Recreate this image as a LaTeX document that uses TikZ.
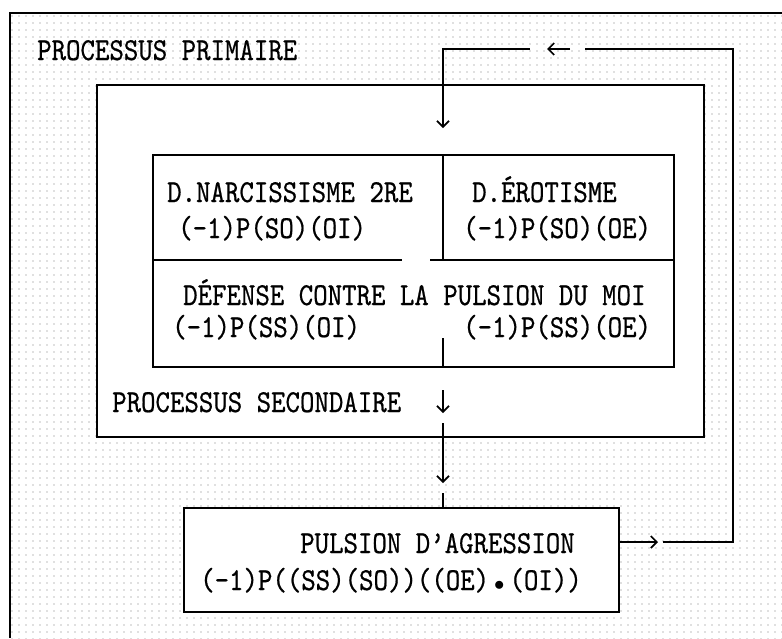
\documentclass[tikz,border=0pt]{standalone}
\usepackage{fontspec}
\usetikzlibrary{positioning,arrows.meta,calc,patterns.meta}
\newfontfamily\dfont{lmmono10-regular.otf}[FakeStretch=0.86,FakeBold=0.6]
\definecolor{cdot}{HTML}{7A7A7A}

\begin{document}
\begin{tikzpicture}[x=1pt, y=-1pt,
  box/.style={draw, fill=white, line width=1.7pt, rectangle, inner sep=0pt, anchor=north west},
  txt/.style={inner sep=0pt, anchor=base west, font=\dfont\fontsize{32}{36}\selectfont},
  wire/.style={line width=1.7pt},
  arr/.style={-{Straight Barb[length=6pt,width=12pt]}, line width=1.7pt}
]
\useasboundingbox (0,0) rectangle (782,638);

% --- dotted field and the open frame of the primary process ---
\fill[pattern={Dots[radius=0.75pt,distance=6.5pt]}, pattern color=cdot] (10,13) rectangle (782,638);
\draw[wire] (782,13) -- (10,13) -- (10,638);
\node[txt] (primlbl) at (37,60) {PROCESSUS PRIMAIRE};

% --- secondary process and the defence table ---
\node[box, minimum width=607pt, minimum height=352pt] (secbox) at (96,84) {};
\node[box, minimum width=521pt, minimum height=212pt] (grid) at (152,154) {};
\coordinate (split) at (443,260);
\draw[wire] (grid.north -| split) -- (split);
\draw[wire] (grid.west |- split) -- ($(split)+(-41,0)$);
\draw[wire] ($(split)+(-13,0)$) -- (grid.east |- split);
\draw[wire] (grid.south -| split) -- ++(0,-30);

\node[txt] (narc)  at (167,202) {D.NARCISSISME 2RE};
\node[txt] (narcf) at (178,238) {(-1)P(SO)(OI)};
\node[txt] (erot)  at (472,202) {D.ÉROTISME};
\node[txt] (erotf) at (463,238) {(-1)P(SO)(OE)};
\node[txt] (dfns)  at (183,305) {DÉFENSE CONTRE LA PULSION DU MOI};
\node[txt] (dfnsi) at (172,337) {(-1)P(SS)(OI)};
\node[txt] (dfnse) at (463,337) {(-1)P(SS)(OE)};
\node[txt] (seclbl) at (112,412) {PROCESSUS SECONDAIRE};

% --- aggression drive ---
\node[box, minimum width=435pt, minimum height=104pt] (agr) at (183,507) {};
\node[txt] (agrlbl) at (300,553) {PULSION D’AGRESSION};
\node[txt] (agrf)   at (200,590)
  {(-1)P((SS)(SO))((OE)\kern5pt{\fontsize{22}{22}\selectfont$\bullet$}\kern5pt(OI))};

% --- flow down ---
\coordinate (dntop) at (443,413);
\coordinate (dnlow) at (443,483);
\draw[arr] ($(dntop)+(0,-23)$) -- (dntop);
\draw[arr] ($(dntop)+(0,10)$) -- (dnlow);
\draw[wire] ($(dnlow)+(0,10)$) -- (agr.north -| dnlow);

% --- feedback loop ---
\coordinate (fbtip) at (658,542);
\coordinate (cornR) at (733,49);
\coordinate (backtip) at (547,49);
\coordinate (intip) at (443,128);
\draw[arr] (agr.east |- fbtip) -- (fbtip);
\draw[wire] ($(fbtip)+(5,0)$) -| (cornR) -- ($(backtip)+(38,0)$);
\draw[arr] ($(backtip)+(23,0)$) -- (backtip);
\draw[arr] ($(backtip)+(-17,0)$) -| (intip);
\end{tikzpicture}
\end{document}
